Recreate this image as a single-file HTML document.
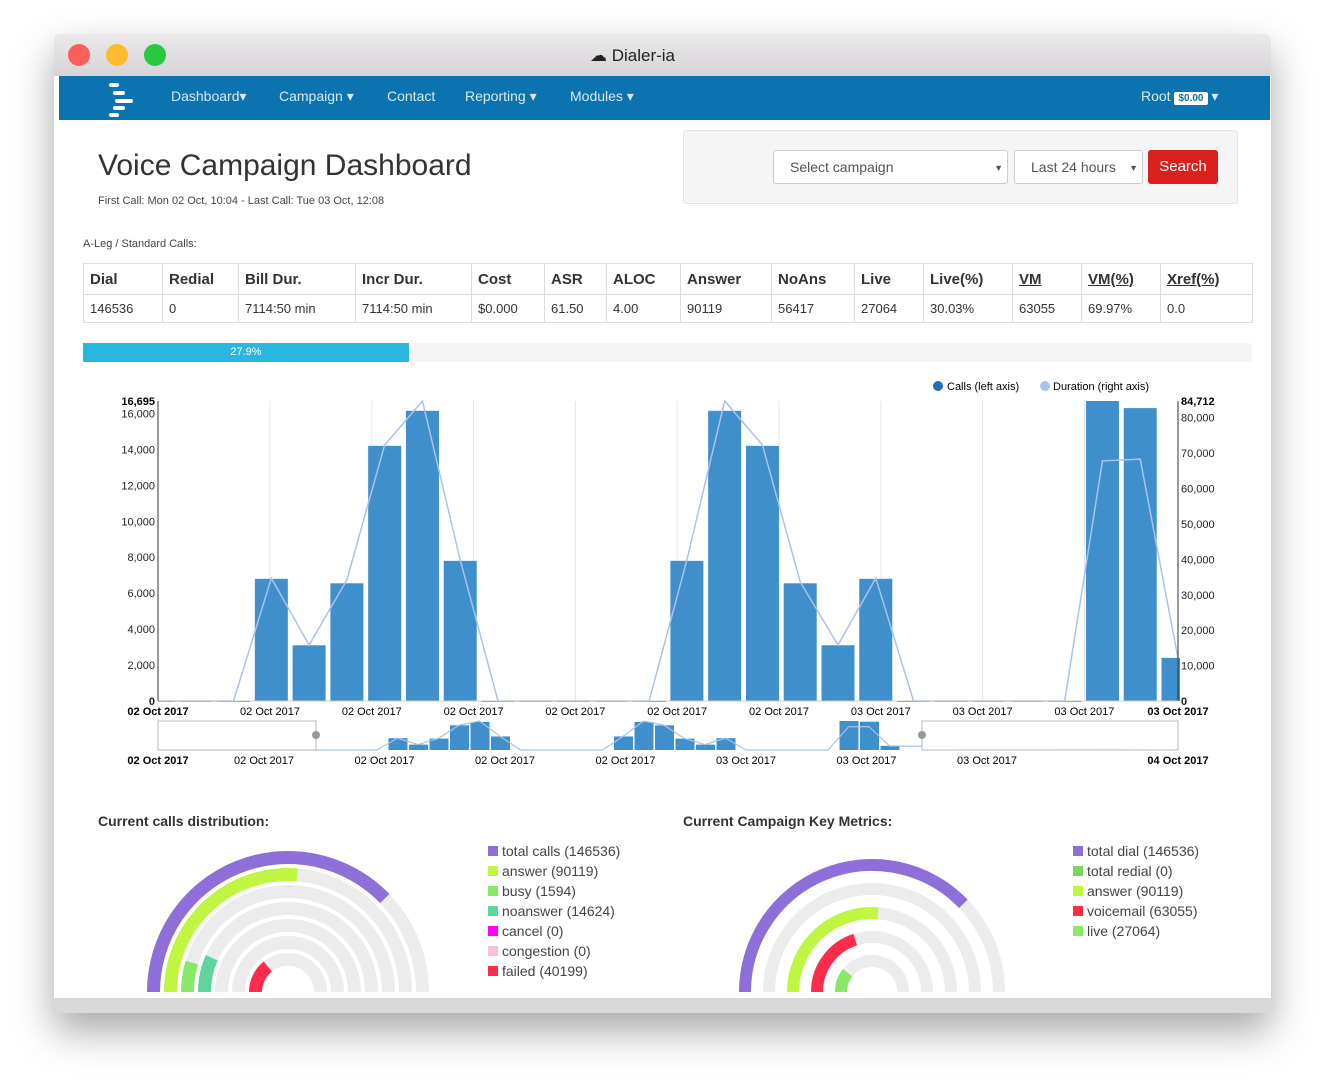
<!DOCTYPE html>
<html><head><meta charset="utf-8"><style>
body{margin:0;width:1326px;height:1083px;background:#fff;font-family:"Liberation Sans",sans-serif;position:relative;overflow:hidden}
.win{position:absolute;left:54px;top:34px;width:1217px;height:979px;background:#fff;box-shadow:0 18px 40px rgba(0,0,0,.35);border-radius:6px;overflow:hidden}
.tb{position:absolute;left:0;top:0;width:100%;height:42px;background:linear-gradient(#ebe9eb,#d6d4d6)}
.dot{position:absolute;top:10px;width:22px;height:22px;border-radius:50%}
.nav{position:absolute;left:5px;top:42px;width:1211px;height:44px;background:#0b73b0;color:#d7e8f4;font-size:14px}
.nav span{position:absolute;top:12px}
.abs{position:absolute}
table{border-collapse:collapse;font-size:13px;color:#333}
td,th{border:1px solid #ddd;text-align:left;padding:0 6px}
th{height:30px;font-size:15px;font-weight:bold}
td{height:27px}
.sel{position:absolute;border:1px solid #ccc;border-radius:3px;background:#fff;font-size:14px;color:#555;box-sizing:border-box;padding:8px 0 0 16px}
.lg{position:absolute;font-size:14px;color:#444}
.lg i{display:inline-block;width:10px;height:10px;margin-right:4px}
</style></head><body>
<div class="win">
 <div class="tb">
  <div class="dot" style="left:14px;background:#fc5f57"></div>
  <div class="dot" style="left:52px;background:#fdbc2e"></div>
  <div class="dot" style="left:90px;background:#28c840"></div>
  <div class="abs" style="left:536px;top:12px;font-size:17px;color:#222">☁ Dialer-ia</div>
 </div>
 <div class="nav">
  <svg class="abs" style="left:48px;top:5px" width="30" height="36"><g fill="#fff"><rect x="2" y="2" width="10" height="4" rx="2"/><rect x="6" y="10" width="12" height="4" rx="2"/><rect x="8" y="18" width="18" height="4" rx="2"/><rect x="6" y="25" width="12" height="4" rx="2"/><rect x="2" y="32" width="10" height="4" rx="2"/></g></svg>
  <span style="left:112px">Dashboard▾</span>
  <span style="left:220px">Campaign ▾</span>
  <span style="left:328px">Contact</span>
  <span style="left:406px">Reporting ▾</span>
  <span style="left:511px">Modules ▾</span>
  <span style="left:1082px">Root <b style="background:#fff;color:#0b73b0;font-size:10px;padding:1px 4px;border-radius:2px">$0.00</b> ▾</span>
 </div>
</div>
<div class="abs" style="left:98px;top:149px;font-size:30px;color:#333">Voice Campaign Dashboard</div>
<div class="abs" style="left:98px;top:195px;font-size:11px;color:#444">First Call: Mon 02 Oct, 10:04 - Last Call: Tue 03 Oct, 12:08</div>
<div class="abs" style="left:683px;top:130px;width:553px;height:72px;background:#f5f5f5;border:1px solid #e3e3e3;border-radius:3px"></div>
<div class="sel" style="left:773px;top:150px;width:235px;height:34px">Select campaign<span style="position:absolute;right:4px;font-size:9px;top:12px">▼</span></div>
<div class="sel" style="left:1014px;top:150px;width:129px;height:34px">Last 24 hours<span style="position:absolute;right:4px;font-size:9px;top:12px">▼</span></div>
<div class="abs" style="left:1148px;top:150px;width:70px;height:34px;background:#d9201c;color:#fff;border-radius:3px;font-size:15px;text-align:center;line-height:34px">Search</div>
<div class="abs" style="left:83px;top:238px;font-size:11px;color:#444">A-Leg / Standard Calls:</div>
<table class="abs" style="left:83px;top:263px;width:1170px">
<tr><th style="width:66px">Dial</th><th style="width:63px">Redial</th><th style="width:104px">Bill Dur.</th><th style="width:103px">Incr Dur.</th><th style="width:60px">Cost</th><th style="width:49px">ASR</th><th style="width:61px">ALOC</th><th style="width:78px">Answer</th><th style="width:70px">NoAns</th><th style="width:56px">Live</th><th style="width:76px">Live(%)</th><th style="width:56px"><u>VM</u></th><th style="width:66px"><u>VM(%)</u></th><th><u>Xref(%)</u></th></tr>
<tr><td>146536</td><td>0</td><td>7114:50 min</td><td>7114:50 min</td><td>$0.000</td><td>61.50</td><td>4.00</td><td>90119</td><td>56417</td><td>27064</td><td>30.03%</td><td>63055</td><td>69.97%</td><td>0.0</td></tr>
</table>
<div class="abs" style="left:83px;top:343px;width:1169px;height:19px;background:#f5f5f5;border-radius:3px"><div style="width:326px;height:19px;background:#29b7e0;color:#fff;font-size:11px;text-align:center;line-height:19px">27.9%</div></div>
<svg id="chart" class="abs" style="left:0;top:370px" width="1326" height="410"></svg>
<div class="abs" style="left:98px;top:813px;font-size:14px;font-weight:bold;color:#333">Current calls distribution:</div>
<div class="abs" style="left:683px;top:813px;font-size:14px;font-weight:bold;color:#333">Current Campaign Key Metrics:</div>
<svg id="radials" class="abs" style="left:0;top:0" width="1326" height="998"></svg>
<div id="leg1"></div><div id="leg2"></div>
<div class="abs" style="left:54px;top:998px;width:1217px;height:15px;background:#d9d9d9"></div>
<script>
const categories=['02 Oct 2017','02 Oct 2017','02 Oct 2017','02 Oct 2017','02 Oct 2017','02 Oct 2017','03 Oct 2017','03 Oct 2017','03 Oct 2017','03 Oct 2017'];
const calls=[0,0,0,6800,3100,6550,14200,16150,7800,0,0,0,0,0,7800,16150,14200,6550,3100,6800,0,0,0,0,0,16695,16300,2400];
const duration=[0,0,0,34700,15800,34200,72300,84712,39800,0,0,0,0,0,39800,84712,72300,33600,15800,34700,0,0,0,0,0,67800,68300,12100];
const leftTicks=[0,2000,4000,6000,8000,10000,12000,14000,16000];
const rightTicks=[0,10000,20000,30000,40000,50000,60000,70000,80000];
const navLabels=['02 Oct 2017','02 Oct 2017','02 Oct 2017','02 Oct 2017','02 Oct 2017','03 Oct 2017','03 Oct 2017','03 Oct 2017'];
const NS='http://www.w3.org/2000/svg';
const svg=document.getElementById('chart');
function mk(p,tag,at,txt){const e=document.createElementNS(NS,tag);for(const k in at)e.setAttribute(k,at[k]);if(txt!==undefined)e.textContent=txt;p.appendChild(e);return e;}
const X0=158,X1=1178,T=31,B=331,LMAX=16695,RMAX=84712;
const step=(X1-X0)/(calls.length-1);
const xs=i=>X0+i*step, yl=v=>B-(B-T)*v/LMAX, yr=v=>B-(B-T)*v/RMAX;
const G0=270,gstep=101.8;
for(let k=0;k<9;k++){const g=mk(svg,'line',{x1:G0+k*gstep,x2:G0+k*gstep,y1:T,y2:B,stroke:'#e6e6e6'});

}
calls.forEach((v,i)=>{const w=33;let x=xs(i)-w/2,ww=w;if(x<X0){ww-=X0-x;x=X0;}if(x+ww>X1+2)ww=X1+2-x;
const r=mk(svg,'rect',{x:x,y:yl(v),width:ww,height:Math.max(B-yl(v),1),fill:'#3f8fcd'});

});
const pl=mk(svg,'polyline',{points:duration.map((v,i)=>xs(i)+','+yr(v)).join(' '),fill:'none',stroke:'#a9c3ea','stroke-width':1.5});


mk(svg,'line',{x1:X0,x2:X0,y1:T,y2:B,stroke:'#333'});mk(svg,'line',{x1:X1,x2:X1,y1:T,y2:B,stroke:'#333'});mk(svg,'line',{x1:X0,x2:X1,y1:B,y2:B,stroke:'#ccc'});
leftTicks.forEach(v=>{const t=mk(svg,'text',{x:X0-3,y:yl(v)+4,'text-anchor':'end','font-size':11,fill:'#222','font-weight':v===0?'bold':'normal'},v===0?'0':v.toLocaleString('en-US'));

});
const tm=mk(svg,'text',{x:X0-3,y:T+4,'text-anchor':'end','font-size':11,'font-weight':'bold'},LMAX.toLocaleString('en-US'));


rightTicks.forEach(v=>{const t=mk(svg,'text',{x:X1+3,y:yr(v)+4,'font-size':11,fill:'#222','font-weight':v===0?'bold':'normal'},v===0?'0':v.toLocaleString('en-US'));

});
const trm=mk(svg,'text',{x:X1+3,y:T+4,'font-size':11,'font-weight':'bold'},RMAX.toLocaleString('en-US'));


const e0=mk(svg,'text',{x:X0,y:B+14,'text-anchor':'middle','font-size':11,'font-weight':'bold'},'02 Oct 2017');


categories.slice(0,9).forEach((c,k)=>{const t=mk(svg,'text',{x:G0+k*gstep,y:B+14,'text-anchor':'middle','font-size':11},c);

});
const e1=mk(svg,'text',{x:X1,y:B+14,'text-anchor':'middle','font-size':11,'font-weight':'bold'},categories[9]);


// legend
mk(svg,'circle',{cx:938,cy:16,r:5,fill:'#1f6fba'});const l1=mk(svg,'text',{x:947,y:20,'font-size':11},'Calls (left axis)');


mk(svg,'circle',{cx:1045,cy:16,r:5,fill:'#a9c3ea'});const l2=mk(svg,'text',{x:1053,y:20,'font-size':11},'Duration (right axis)');


// navigator
const NT=351,NB=380,nx=i=>336+20.5*i;
calls.forEach((v,i)=>{const r=mk(svg,'rect',{x:nx(i)-9,y:NB-(NB-NT)*v/LMAX,width:19,height:(NB-NT)*v/LMAX,fill:'#3f8fcd'});

});
const np=mk(svg,'polyline',{points:'158,'+NB+' '+duration.map((v,i)=>nx(i)+','+(NB-(NB-NT)*v/RMAX)).join(' ')+' 1178,'+NB,fill:'none',stroke:'#a9c3ea','stroke-width':1.2});


const m1=mk(svg,'rect',{x:158,y:NT,width:158,height:NB-NT,fill:'rgba(255,255,255,.85)',stroke:'#bbb'});


const m2=mk(svg,'rect',{x:922,y:NT,width:256,height:NB-NT,fill:'rgba(255,255,255,.85)',stroke:'#bbb'});


mk(svg,'circle',{cx:316,cy:365,r:4,fill:'#999'});mk(svg,'circle',{cx:922,cy:365,r:4,fill:'#999'});
mk(svg,'text',{x:158,y:394,'text-anchor':'middle','font-size':11,'font-weight':'bold'},'02 Oct 2017');
navLabels.slice(1).forEach((c,k)=>{const t=mk(svg,'text',{x:264+k*120.5,y:394,'text-anchor':'middle','font-size':11},c);

});
mk(svg,'text',{x:1178,y:394,'text-anchor':'middle','font-size':11,'font-weight':'bold'},'04 Oct 2017');

// radials
const distLabels=['total calls','answer','busy','noanswer','cancel','congestion','failed'];
const distValues=[146536,90119,1594,14624,0,0,40199];
const distColors=['#8e6ed8','#c0f542','#88e868','#5fd49b','#ff00ff','#f7c0d8','#ff2b4a'];
const kpiLabels=['total dial','total redial','answer','voicemail','live'];
const kpiValues=[146536,0,90119,63055,27064];
const kpiColors=['#8e6ed8','#79d65e','#c0f542','#ff2b4a','#88e868'];
const rs=document.getElementById('radials');
function ang(v,max){if(v<=0)return 0;return Math.max(17,136*Math.pow(v/max,0.75));}
function arc(cx,cy,r,a){const t=Math.PI*(1-a/180);return 'M'+(cx-r)+','+cy+' A'+r+','+r+' 0 0 1 '+(cx+r*Math.cos(t))+','+(cy-r*Math.sin(t));}
function radial(cx,cy,outer,stepR,th,vals,cols,nm){const max=Math.max(...vals);
vals.forEach((v,i)=>{const r=outer-th/2-i*stepR;
mk(rs,'path',{d:arc(cx,cy,r,180),fill:'none',stroke:'#ececec','stroke-width':th});
const a=ang(v,max);if(a>0){const p=mk(rs,'path',{d:arc(cx,cy,r,a),fill:'none',stroke:cols[i],'stroke-width':th});

}});}
radial(288,992,141,17,13,distValues,distColors,'distribution');
radial(872,992,133,24,12,kpiValues,kpiColors,'kpi');
function legend(id,x,y,labels,vals,cols,nm){const d=document.getElementById(id);labels.forEach((l,i)=>{const e=document.createElement('div');e.className='lg';e.style.left=x+'px';e.style.top=(y+i*20)+'px';e.innerHTML='<i style="background:'+cols[i]+'"></i>'+l+' ('+vals[i]+')';


d.appendChild(e);});}
legend('leg1',488,843,distLabels,distValues,distColors,'distribution');
legend('leg2',1073,843,kpiLabels,kpiValues,kpiColors,'kpi');
</script>
</body></html>
